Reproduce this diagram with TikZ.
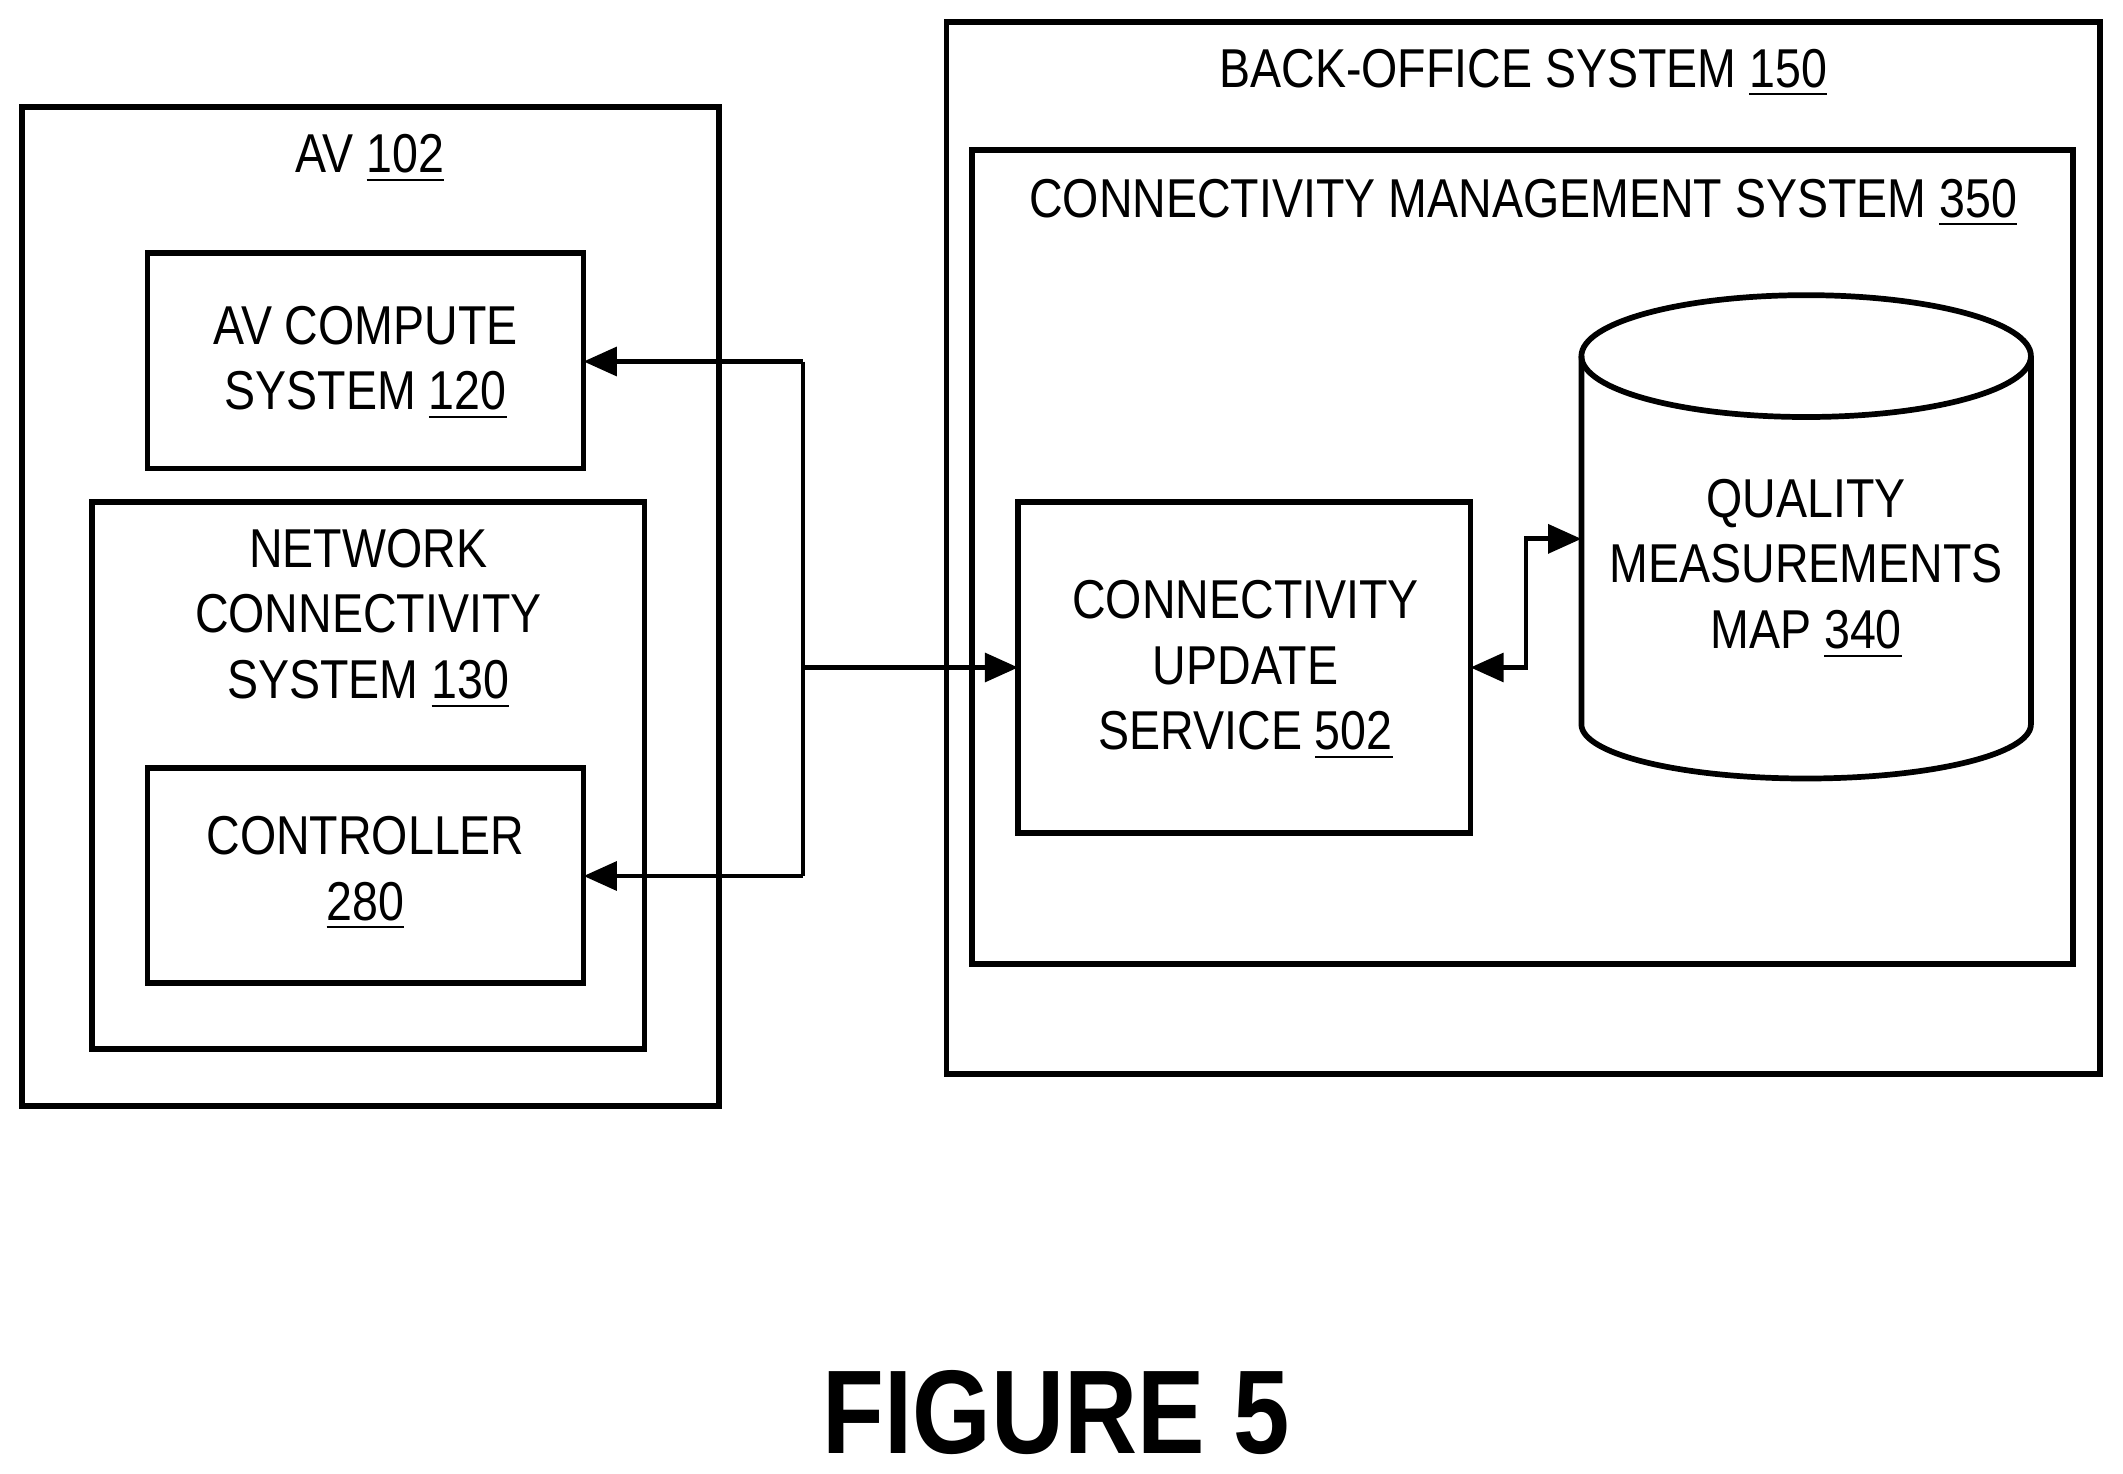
\documentclass[tikz,border=0pt]{standalone}
\usepackage{fontspec}
\setmainfont{Liberation Sans}[FakeStretch=0.85]
\usetikzlibrary{arrows.meta}
\begin{document}
\begin{tikzpicture}[x=0.01cm,y=-0.01cm,
  box/.style={draw,line width=1.2pt},
  lab/.style={font=\fontsize{11.5}{13.8}\selectfont,align=center},
  con/.style={line width=1pt,-{Triangle[length=7pt,width=6pt]}}]
\useasboundingbox (0,0) rectangle (1568,1088);
\draw[box] (16,79) rectangle (531,817);
\node[lab] (avl) at (273,117) {AV \underline{102}};
\draw[box] (109,187) rectangle (431,346);
\node[lab] (avc) at (270,268) {AV COMPUTE\\SYSTEM \underline{120}};
\draw[box] (68,371) rectangle (476,775);
\node[lab] (ncs) at (272,457) {NETWORK\\CONNECTIVITY\\SYSTEM \underline{130}};
\draw[box] (109,567) rectangle (431,726);
\node[lab] (ctl) at (270,645) {CONTROLLER\\\underline{280}};
\draw[box] (699,16) rectangle (1551,793);
\node[lab] (bo) at (1125,54) {BACK-OFFICE SYSTEM \underline{150}};
\draw[box] (718,111) rectangle (1531,712);
\node[lab] (cms) at (1125,150) {CONNECTIVITY MANAGEMENT SYSTEM \underline{350}};
\draw[box] (752,371) rectangle (1086,615);
\node[lab] (cus) at (920,495) {CONNECTIVITY\\UPDATE\\SERVICE \underline{502}};
\draw[box] (1168,263) -- (1168,535) arc[start angle=180,end angle=360,x radius=166,y radius=-40] -- (1500,263);
\draw[box] (1334,263) ellipse[x radius=166,y radius=45];
\node[lab] (qm) at (1334,420) {QUALITY\\MEASUREMENTS\\MAP \underline{340}};
\coordinate (j1) at (593,267);
\coordinate (j2) at (593,647);
\coordinate (j3) at (593,493);
\draw[line width=1pt] (j1) -- (j2);
\draw[con] (j1) -- (431,267);
\draw[con] (j2) -- (431,647);
\draw[con] (j3) -- (752,493);
\draw[line width=1pt,{Triangle[length=7pt,width=6pt]}-{Triangle[length=7pt,width=6pt]}] (1086,493) -- (1127,493) -- (1127,398) -- (1168,398);
\node[font=\bfseries\fontsize{25}{30}\selectfont] (fig) at (780,1043) {FIGURE 5};
\end{tikzpicture}
\end{document}
